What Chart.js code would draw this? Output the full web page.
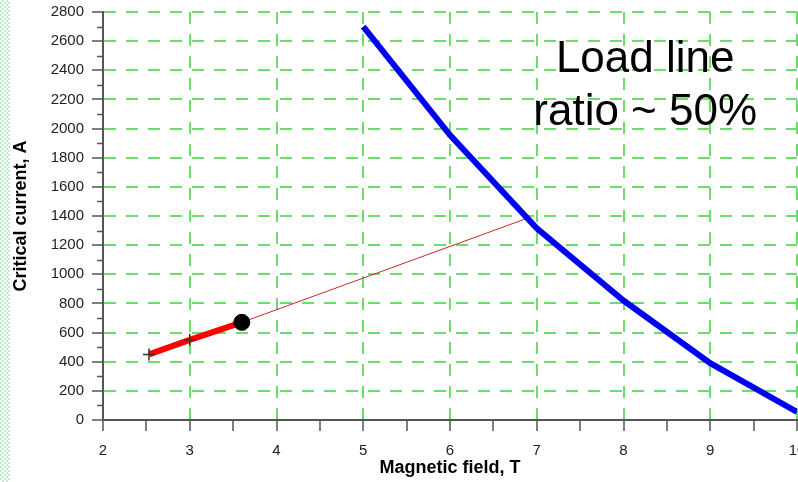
<!DOCTYPE html>
<html>
<head>
<meta charset="utf-8">
<script src="https://cdn.jsdelivr.net/npm/chart.js@4.4.1/dist/chart.umd.min.js"></script>
<style>
  html, body { margin: 0; padding: 0; background: #fff; overflow: hidden; }
  #wrap { position: relative; width: 798px; height: 482px; overflow: hidden; }
  #stripe { position: absolute; left: 0; top: 0; width: 10px; height: 482px;
    background: repeating-conic-gradient(#c4ecd2 0 25%, #ffffff 0 50%) 0 0 / 4px 4px; }
  canvas { position: absolute; left: 0; top: 0; }
</style>
</head>
<body>
<div id="wrap">
  <canvas id="chart" width="810" height="482"></canvas>
  <div id="stripe"></div>
</div>
<script>
// critical current curve (blue)
const criticalField = [5, 6, 7, 8, 9, 10];
const criticalCurrent = [2700, 1955, 1315, 820, 390, 55];

// load line (thin red) up to the crossing with the critical curve
const loadField = [2.53, 3.6, 6.87];
const loadCurrent = [450, 670, 1380];

// operating range (thick red)
const rangeField = [2.53, 3.0, 3.6];
const rangeCurrent = [450, 550, 670];

// markers
const crossField = [2.53, 3.0];
const crossCurrent = [450, 550];
const dotField = [3.6];
const dotCurrent = [670];

// axis tick labels
const xMajor = [2, 3, 4, 5, 6, 7, 8, 9, 10];
const yMajor = [0, 200, 400, 600, 800, 1000, 1200, 1400, 1600, 1800, 2000, 2200, 2400, 2600, 2800];

const noteLines = ["Load line", "ratio ~ 50%"];

const FONT = "'Liberation Sans', Arial, sans-serif";
const GRID_GREEN = "#6cdc6c";
const AXIS_GRAY = "#555555";

const pts = (xs, ys) => xs.map((x, i) => ({ x: x, y: ys[i] }));

// minor ticks on the y axis are shorter than the major ones
const minorTicks = {
  id: "minorTicks",
  afterDraw(chart) {
    const { ctx, chartArea } = chart;
    const y = chart.scales.y;
    ctx.save();
    ctx.strokeStyle = AXIS_GRAY;
    ctx.lineWidth = 1.5;
    for (let v = 100; v < 2800; v += 200) {
      const py = Math.round(y.getPixelForValue(v)) + 0.5;
      ctx.beginPath();
      ctx.moveTo(chartArea.left - 6, py);
      ctx.lineTo(chartArea.left, py);
      ctx.stroke();
    }
    ctx.restore();
  },
};

const note = {
  id: "note",
  afterDatasetsDraw(chart) {
    const { ctx } = chart;
    const x = chart.scales.x.getPixelForValue(8.25);
    ctx.save();
    ctx.fillStyle = "#000";
    ctx.font = "44px " + FONT;
    ctx.textAlign = "center";
    ctx.textBaseline = "alphabetic";
    ctx.fillText(noteLines[0], x, chart.scales.y.getPixelForValue(2388));
    ctx.fillText(noteLines[1], x, chart.scales.y.getPixelForValue(2024));
    ctx.restore();
  },
};

Chart.defaults.font.family = FONT;

new Chart(document.getElementById("chart").getContext("2d"), {
  type: "line",
  data: {
    datasets: [
      {
        label: "dot",
        data: pts(dotField, dotCurrent),
        showLine: false,
        pointRadius: 8,
        pointBackgroundColor: "#000",
        pointBorderColor: "#000",
        order: 0,
      },
      {
        label: "cross",
        data: pts(crossField, crossCurrent),
        showLine: false,
        pointStyle: "cross",
        pointRadius: 6,
        pointBorderColor: "#333",
        pointBorderWidth: 1.5,
        order: 1,
      },
      {
        label: "range",
        data: pts(rangeField, rangeCurrent),
        borderColor: "#ff0000",
        borderWidth: 6,
        pointRadius: 0,
        borderCapStyle: "butt",
        order: 2,
      },
      {
        label: "critical",
        data: pts(criticalField, criticalCurrent),
        borderColor: "#0000f0",
        borderWidth: 6,
        pointRadius: 0,
        order: 3,
      },
      {
        label: "load",
        data: pts(loadField, loadCurrent),
        borderColor: "#c42a2a",
        borderWidth: 1,
        pointRadius: 0,
        order: 4,
      },
    ],
  },
  options: {
    responsive: false,
    animation: false,
    devicePixelRatio: 1,
    layout: { padding: { top: 12, right: 13, bottom: 0, left: 0 } },
    plugins: {
      legend: { display: false },
      tooltip: { enabled: false },
    },
    scales: {
      x: {
        type: "linear",
        min: 2,
        max: 10,
        afterFit: (s) => { s.height = 62; s.paddingLeft = 0; s.paddingRight = 0; },
        ticks: {
          stepSize: 0.5,
          autoSkip: false,
          maxRotation: 0,
          padding: 11,
          color: "#222",
          font: { size: 15 },
          callback: (v) => (xMajor.includes(v) ? String(v) : ""),
        },
        grid: {
          color: (c) => (c.tick && xMajor.includes(c.tick.value) ? GRID_GREEN : "rgba(0,0,0,0)"),
          tickColor: AXIS_GRAY,
          tickLength: 11,
          tickWidth: 1.5,
          lineWidth: 2,
        },
        border: { display: true, color: AXIS_GRAY, width: 2, dash: [12, 10] },
        title: {
          display: true,
          text: "Magnetic field, T",
          color: "#000",
          font: { size: 18, weight: "bold" },
          padding: { top: 0, bottom: 3 },
        },
      },
      y: {
        type: "linear",
        min: 0,
        max: 2800,
        afterFit: (s) => { s.width = 103; s.paddingTop = 0; s.paddingBottom = 0; },
        ticks: {
          stepSize: 100,
          autoSkip: false,
          padding: 8,
          color: "#222",
          font: { size: 15 },
          callback: (v) => (yMajor.includes(v) ? String(v) : ""),
        },
        grid: {
          color: (c) => (c.tick && yMajor.includes(c.tick.value) ? GRID_GREEN : "rgba(0,0,0,0)"),
          tickColor: (c) => (c.tick && yMajor.includes(c.tick.value) ? AXIS_GRAY : "rgba(0,0,0,0)"),
          tickLength: 11,
          tickWidth: 1.5,
          lineWidth: 2,
        },
        border: { display: true, color: AXIS_GRAY, width: 2, dash: [12, 10] },
        title: {
          display: true,
          text: "Critical current, A",
          color: "#000",
          font: { size: 18, weight: "bold" },
          padding: { top: 10, bottom: 0 },
        },
      },
    },
  },
  plugins: [minorTicks, note],
});
</script>
</body>
</html>
